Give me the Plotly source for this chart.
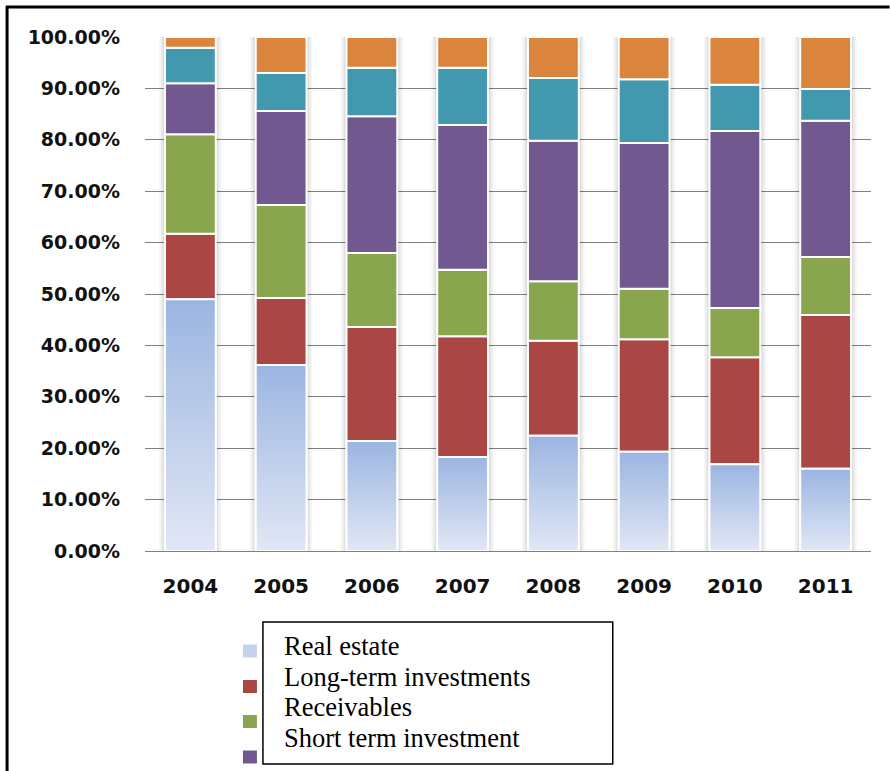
import plotly.graph_objects as go

years = ['2004', '2005', '2006', '2007', '2008', '2009', '2010', '2011']
real_estate = [49.0, 36.2, 21.4, 18.3, 22.4, 19.3, 16.9, 16.0]
long_term = [12.7, 13.0, 22.2, 23.5, 18.5, 21.9, 20.8, 29.9]
receivables = [19.4, 18.1, 14.4, 12.9, 11.6, 9.8, 9.6, 11.3]
short_term = [9.9, 18.3, 26.6, 28.2, 27.3, 28.4, 34.4, 26.5]
series5 = [6.9, 7.4, 9.4, 11.1, 12.2, 12.4, 9.0, 6.2]
series6 = [2.1, 7.0, 6.0, 6.0, 8.0, 8.2, 9.3, 10.1]

y_ticks = [0, 10, 20, 30, 40, 50, 60, 70, 80, 90, 100]
y_tick_labels = [f'{v:.2f}%' for v in y_ticks]

legend_names = ['Real estate', 'Long-term investments', 'Receivables', 'Short term investment']

W, H = 890, 771
L, R, T, B = 145, 871.4, 37, 551
BAR_W = 0.56

def px(x):
    return (x - L) / (R - L)

def py(y):
    return (B - y) / (B - T)

xs = list(range(len(years)))
fig = go.Figure()

# soft shadow behind each bar
totals = [a + b + c + d + e + f for a, b, c, d, e, f in zip(real_estate, long_term, receivables, short_term, series5, series6)]
for wd, op in [(BAR_W + 0.13, 0.035), (BAR_W + 0.09, 0.045), (BAR_W + 0.05, 0.06)]:
    fig.add_trace(go.Bar(x=xs, y=totals, width=wd, marker=dict(color=f'rgba(0,0,0,{op})', line=dict(width=0)),
                         showlegend=False, hoverinfo='skip'))

stack = [
    ('Real estate', real_estate, '#9BB5E1'),
    ('Long-term investments', long_term, '#AA4643'),
    ('Receivables', receivables, '#89A54E'),
    ('Short term investment', short_term, '#71588F'),
    ('Series 5', series5, '#4198AF'),
    ('Series 6', series6, '#DB843D'),
]
base = [0.0] * len(years)
for name, vals, col in stack:
    fig.add_trace(go.Bar(x=xs, y=vals, base=list(base), width=BAR_W, name=name,
                         marker=dict(color=col, line=dict(color='white', width=2)),
                         showlegend=False))
    base = [b + v for b, v in zip(base, vals)]

# gradient fill for the real-estate segments
for i, v in enumerate(real_estate):
    x0, x1 = xs[i] - BAR_W / 2, xs[i] + BAR_W / 2
    fig.add_trace(go.Scatter(
        x=[x0, x1, x1, x0, x0], y=[0, 0, v, v, 0], mode='lines', fill='toself',
        line=dict(color='white', width=2),
        fillgradient=dict(type='vertical', start=0, stop=v,
                          colorscale=[[0, '#E1E7F5'], [1, '#9BB5E1']]),
        showlegend=False, hoverinfo='skip'))

shapes = []
# outer frame lines
shapes.append(dict(type='line', xref='paper', yref='paper', x0=px(6), x1=px(890), y0=py(7), y1=py(7),
                   line=dict(color='black', width=3), layer='above'))
shapes.append(dict(type='line', xref='paper', yref='paper', x0=px(7), x1=px(7), y0=py(6), y1=py(771),
                   line=dict(color='black', width=3), layer='above'))
# legend box
shapes.append(dict(type='rect', xref='paper', yref='paper', x0=px(263), x1=px(613), y0=py(622), y1=py(764),
                   fillcolor='white', line=dict(color='black', width=1.5), layer='above'))
# legend markers
marker_cols = ['#C4D2EE', '#AA4643', '#89A54E', '#71588F']
marker_cy = [651, 686.5, 721.5, 757]
for col, cy in zip(marker_cols, marker_cy):
    shapes.append(dict(type='rect', xref='paper', yref='paper', x0=px(243), x1=px(257),
                       y0=py(cy - 6.5), y1=py(cy + 6.5), fillcolor=col, line=dict(width=0), layer='above'))

annotations = []
text_cy = [646, 677, 707, 738]
for name, cy in zip(legend_names, text_cy):
    annotations.append(dict(text=name, xref='paper', yref='paper', x=px(282), y=py(cy),
                            xanchor='left', yanchor='middle', showarrow=False,
                            font=dict(family='Liberation Serif', size=26.5, color='black')))

fig.update_layout(
    width=W, height=H,
    margin=dict(l=L, r=W - R, t=T, b=H - B, pad=0),
    paper_bgcolor='white', plot_bgcolor='white',
    barmode='overlay',
    showlegend=False,
    shapes=shapes, annotations=annotations,
    xaxis=dict(range=[-0.5, 7.5], tickmode='array', tickvals=xs, ticktext=years,
               showgrid=False, zeroline=False, showline=False, ticks='',
               ticklabelstandoff=21,
               tickfont=dict(family='DejaVu Sans', size=20, color='#111', weight='bold')),
    yaxis=dict(range=[0, 100], tickmode='array', tickvals=y_ticks, ticktext=y_tick_labels,
               showgrid=True, gridcolor='#808080', gridwidth=1.4,
               zeroline=True, zerolinecolor='#808080', zerolinewidth=1.4,
               showline=False, ticks='', ticklabelstandoff=24,
               tickfont=dict(family='DejaVu Sans', size=19, color='#111', weight='bold')),
)

fig.write_html('out.html', config={'displayModeBar': False},
               post_script="document.body.style.margin='0';document.body.style.overflow='hidden';")
